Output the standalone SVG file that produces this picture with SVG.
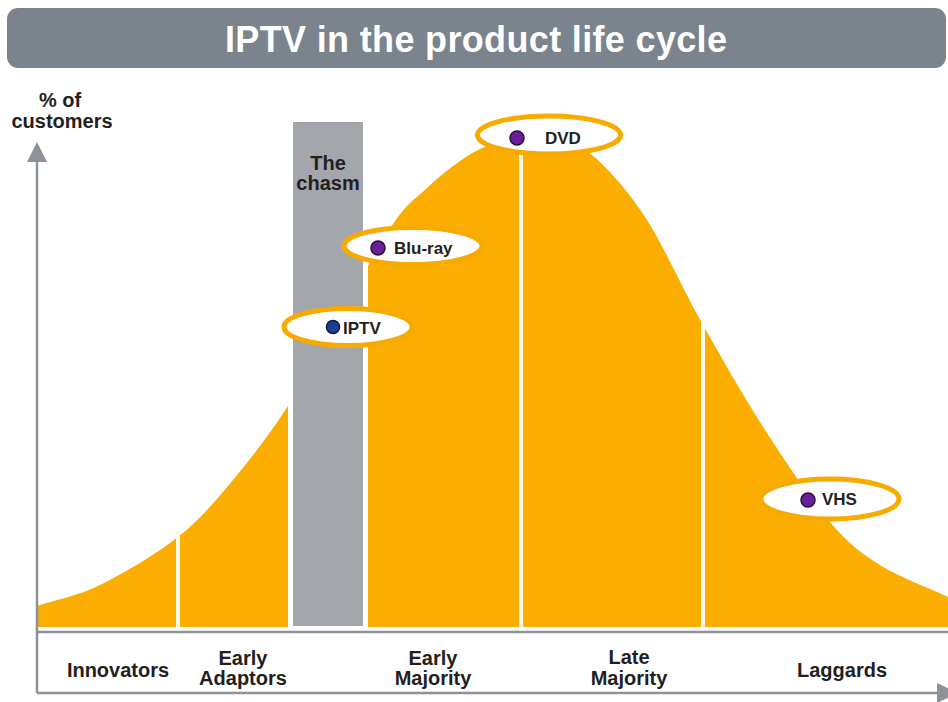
<svg xmlns="http://www.w3.org/2000/svg" width="948" height="702" viewBox="0 0 948 702">
<style>
.lbl{font-family:"Liberation Sans",Arial,sans-serif;font-weight:bold;font-size:20px;fill:#231f20;text-anchor:middle}
.tag{font-family:"Liberation Sans",Arial,sans-serif;font-weight:bold;font-size:17px;fill:#231f20}
.oval{fill:#ffffff;stroke:#f7ab00;stroke-width:5}
.dot{fill:#6a1f9a;stroke:#2b0b3d;stroke-width:1.5}
.div{stroke:#fffbea;stroke-width:4}
.axis{stroke:#8c9299;stroke-width:2.5;fill:none}
</style>
<rect width="948" height="702" fill="#ffffff"/>
<g id="title">
<rect x="7" y="8" width="939" height="60" rx="11" fill="#7b838d"/>
<text x="476" y="52" font-family="'Liberation Sans',Arial,sans-serif" font-weight="bold" font-size="36" fill="#ffffff" text-anchor="middle" textLength="502" lengthAdjust="spacing">IPTV in the product life cycle</text>
</g>
<g id="curve">
<path fill="#fbad00" d="M37,627 L37,606 C58,599 76.5,596.5 100,585 C123.5,573.5 155.8,554.5 178,537 C200.2,519.5 214.7,501.8 233,480 C251.3,458.2 270.2,433.3 288,406 C305.8,378.7 322.5,346.3 340,316 C357.5,285.7 378.5,245.3 393,224 C407.5,202.7 415.8,198.5 427,188 C438.2,177.5 449.5,168.2 460,161 C470.5,153.8 478.3,149 490,145 C501.7,141 516.7,137 530,137 C543.3,137 558.3,140.8 570,145 C581.7,149.2 587.2,149.5 600,162 C612.8,174.5 629.8,192.8 647,220 C664.2,247.2 683,289.5 703,325 C723,360.5 745.8,400.2 767,433 C788.2,465.8 811.2,500 830,522 C848.8,544 860.3,552.5 880,565 C899.7,577.5 925.3,586.3 948,597 L948,627 Z"/>
<line class="div" x1="178" y1="530" x2="178" y2="628"/>
<line class="div" x1="521" y1="150" x2="521" y2="628"/>
<line class="div" x1="703" y1="318" x2="703" y2="628"/>
</g>
<g id="chasm">
<rect x="288" y="122" width="80" height="507" fill="#ffffff"/>
<rect x="293" y="122" width="70" height="504" fill="#a3a6ab"/>
<text class="lbl" x="328" y="170">The</text>
<text class="lbl" x="328" y="190">chasm</text>
</g>
<g id="connectors">
<line class="axis" x1="37" y1="160" x2="37" y2="693"/>
<polygon points="37,142 27,162 47,162" fill="#8c9299"/>
<line class="axis" x1="37" y1="632" x2="948" y2="632"/>
<line class="axis" x1="37" y1="693" x2="940" y2="693"/>
<polygon points="937,683 958,693 937,703" fill="#8c9299"/>
</g>
<g id="yaxis-label">
<text class="lbl" x="60" y="107">% of</text>
<text class="lbl" x="62" y="128">customers</text>
</g>
<g id="node-dvd">
<ellipse class="oval" cx="549" cy="135" rx="71.5" ry="19"/>
<circle class="dot" cx="517" cy="138" r="7"/>
<text class="tag" x="545" y="144">DVD</text>
</g>
<g id="node-bluray">
<ellipse class="oval" cx="413" cy="246" rx="69" ry="18.5"/>
<circle class="dot" cx="378" cy="248" r="7"/>
<text class="tag" x="394" y="254">Blu-ray</text>
</g>
<g id="node-iptv">
<ellipse class="oval" cx="348" cy="327" rx="64" ry="18.5"/>
<circle cx="333" cy="327" r="6.5" fill="#1c3f95" stroke="#0b1a45" stroke-width="1.5"/>
<text class="tag" x="343" y="334">IPTV</text>
</g>
<g id="node-vhs">
<ellipse class="oval" cx="830" cy="499" rx="69" ry="20"/>
<circle class="dot" cx="808" cy="500" r="7"/>
<text class="tag" x="822" y="505">VHS</text>
</g>
<g id="segments">
<text class="lbl" x="118" y="677">Innovators</text>
<text class="lbl" x="243" y="665">Early</text>
<text class="lbl" x="243" y="685">Adaptors</text>
<text class="lbl" x="433" y="665">Early</text>
<text class="lbl" x="433" y="685">Majority</text>
<text class="lbl" x="629" y="664">Late</text>
<text class="lbl" x="629" y="685">Majority</text>
<text class="lbl" x="842" y="677">Laggards</text>
</g>
</svg>
